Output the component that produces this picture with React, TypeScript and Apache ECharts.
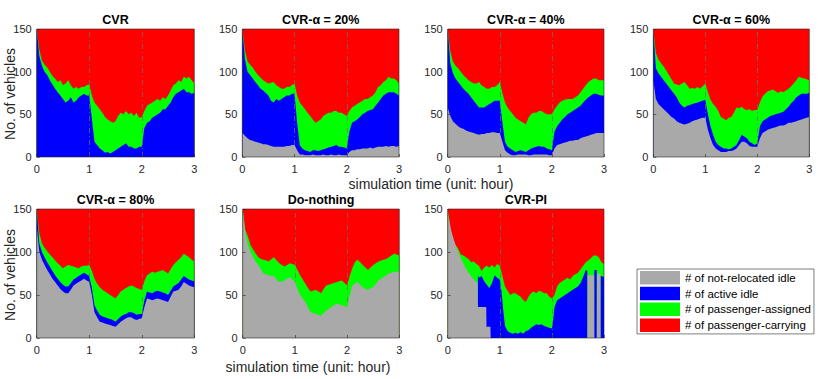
import React, { useEffect, useRef } from "react";
import * as echarts from "echarts";

// ---------------- DATA ----------------
// shared sampling grid (hours)
const TIME: number[] = Array.from({ length: 61 }, (_, i) => Math.round(i * 5) / 100);
const FLEET_SIZE = 150; // total vehicles: top of the stack (passenger-carrying)

const SERIES_NAMES = [
  "# of not-relocated idle",
  "# of active idle",
  "# of passenger-assigned",
  "# of passenger-carrying",
];
const SERIES_COLORS = ["#a9a9a9", "#0000ff", "#00ff00", "#ff0000"];

const PANEL_TITLES = [
  "CVR",
  "CVR-α = 20%",
  "CVR-α = 40%",
  "CVR-α = 60%",
  "CVR-α = 80%",
  "Do-nothing",
  "CVR-PI",
];

const X_TICKS = [0, 1, 2, 3];
const Y_TICKS = [0, 50, 100, 150];
const PHASE_MARKS = [1, 2];

// Stacked levels (cumulative tops)
// CVR
const CVR_GRAY_T = [0, 3];
const CVR_GRAY = [0, 0];
const CVR_BLUE = [150,118,107,100,96,90,85,80,76,72, 68,64,66,70,64,66,70,72,74,72, 72,45,18,14,10,8,5,6,4,6, 8,10,12,14,16,12,12,10,10,12, 12,34,40,42,46,48,50,52,56,56, 60,64,70,74,76,78,80,76,76,74, 75];
const CVR_GREEN = [150,126,113,108,105,100,95,92,88,90, 84,86,90,84,80,82,80,82,82,84, 85,72,64,60,56,52,47,44,42,40, 42,48,52,50,54,50,52,48,52,46, 47,54,60,62,64,66,68,66,70,68, 72,78,84,86,90,88,94,92,94,90, 86];

// CVR-α = 20%
const A20_GRAY = [28,25,22,20,19,18,17,16,15,15, 14,13,12,12,12,12,12,13,13,14, 14,8,3,3,2,2,2,3,2,2, 2,3,2,2,3,2,2,3,2,2, 2,6,8,8,9,9,10,10,10,11, 10,11,12,12,12,13,12,13,13,12, 13];
const A20_BLUE = [150,115,100,96,92,88,84,80,78,75, 72,66,64,68,66,68,70,72,72,74, 74,40,14,10,8,7,6,8,8,7, 8,9,10,11,12,13,14,12,12,11, 10,30,40,42,44,47,50,52,54,55, 56,60,64,68,72,74,76,76,76,74, 72];
const A20_GREEN = [150,125,112,108,105,100,96,93,90,88, 86,87,88,84,82,80,80,82,82,84, 86,72,64,60,56,52,48,44,40,42, 44,48,50,52,52,54,54,52,52,50, 48,54,58,60,62,64,66,68,68,70, 72,76,82,84,88,90,94,92,92,90, 86];

// CVR-α = 40%
const A40_GRAY = [58,48,42,39,36,34,33,31,30,29, 28,27,26,27,27,28,28,29,29,28, 28,18,8,5,3,2,2,3,3,3, 3,2,2,3,3,3,3,3,3,2, 2,10,14,15,16,17,18,19,19,20, 20,22,23,24,25,26,27,28,28,28, 28];
const A40_BLUE = [150,110,98,92,88,84,80,77,74,70, 66,62,58,58,58,60,62,64,66,66, 66,40,18,12,10,8,6,7,8,7, 6,8,10,11,12,13,12,12,10,9, 8,30,36,40,44,47,50,52,54,56, 58,60,64,67,70,72,74,74,73,72, 72];
const A40_GREEN = [150,124,112,107,104,100,96,93,90,88, 86,86,88,84,82,80,80,82,82,84, 88,75,64,58,54,50,46,44,42,40, 38,46,50,52,52,54,54,52,50,50, 50,56,60,64,66,67,68,68,68,70, 72,76,80,84,88,90,92,92,90,90, 90];

// CVR-α = 60%
const A60_GRAY = [90,68,62,59,56,53,50,47,45,42, 40,39,38,39,40,42,43,44,45,46, 46,32,22,14,10,8,6,6,6,7, 7,8,10,14,18,18,16,13,12,12, 12,22,28,30,32,33,34,35,36,37, 37,38,40,40,41,42,43,44,45,46, 47];
const A60_BLUE = [150,104,98,94,90,86,82,78,74,70, 64,60,58,60,61,62,63,64,65,66, 67,50,36,26,18,14,12,10,10,9, 10,12,14,20,26,24,22,18,16,14, 16,36,42,44,46,48,49,50,51,52, 53,56,59,63,66,70,72,74,74,74, 75];
const A60_GREEN = [150,122,114,110,106,101,96,91,86,85, 84,86,88,84,80,81,80,82,80,83, 86,76,67,62,59,54,47,45,43,46, 47,52,58,57,59,56,55,56,54,55, 55,64,71,74,77,78,79,77,75,77, 76,78,80,83,86,90,94,93,92,91, 90];

// CVR-α = 80%
const A80_GRAY = [130,100,91,85,79,74,69,65,61,57, 54,52,52,56,61,63,65,67,69,67, 65,50,30,24,19,18,17,16,15,14, 13,16,19,21,23,24,24,22,21,22, 23,36,46,45,44,45,46,45,44,43, 42,48,54,55,56,60,65,63,61,60, 59];
const A80_BLUE = [150,110,100,94,88,83,78,73,69,65, 62,60,60,64,68,70,72,74,76,74, 72,58,38,32,27,25,24,23,22,21, 19,22,25,27,28,30,30,29,27,28, 28,44,54,53,52,54,55,54,53,52, 50,55,60,62,64,68,72,70,68,67, 66];
const A80_GREEN = [150,122,110,105,101,97,94,90,87,84, 81,83,85,84,83,82,81,83,84,84, 85,78,69,63,59,56,54,52,50,48, 46,50,54,56,58,60,61,60,58,57, 56,66,73,75,77,76,77,78,79,77, 75,80,85,88,91,94,98,96,94,91, 89];

// Do-nothing (no active idle vehicles)
const DN_GRAY = [150,122,108,100,94,89,85,80,75,74, 73,72,72,68,65,66,67,69,71,68, 65,57,50,46,42,36,30,29,28,27, 26,29,32,34,36,38,40,39,38,37, 36,50,61,63,65,62,59,57,56,58, 59,63,67,69,71,73,75,76,77,77, 77];
const DN_BLUE_T = [0, 3];
const DN_BLUE = [0, 0];
const DN_GREEN = [150,126,118,108,103,98,94,92,91,90, 89,92,94,90,87,85,83,85,87,86, 85,79,73,68,63,58,54,55,56,54, 52,57,61,62,63,64,65,66,67,64, 61,72,81,88,91,88,85,82,79,82, 85,87,89,90,91,92,94,96,98,97, 96];

// CVR-PI
const PI_GRAY_T = [0,0.04,0.07,0.13,0.2,0.26,0.33,0.39,0.46,0.52,0.575,0.58,0.74,0.745,0.82,0.825,2.68,2.685,2.81,2.815,2.86,2.865,2.93,2.935,3];
const PI_GRAY = [146,134,124,112,100,92,83,77,71,67,64,36,36,13,13,0,0,73,73,0,0,75,75,0,0];
const PI_BLUE_T = [0,0.575,0.58,0.6,0.65,0.7,0.75,0.8,0.85,0.9,0.95,1,1.03,1.07,1.1,1.15,1.2,1.25,1.3,1.35,1.4,1.45,1.5,1.55,1.6,1.65,1.7,1.75,1.8,1.85,1.9,1.95,2,2.03,2.05,2.1,2.15,2.2,2.25,2.3,2.35,2.4,2.45,2.5,2.55,2.6,2.65,2.68,2.685,2.81,2.815,2.86,2.865,2.93,2.935,2.95,3];
const PI_BLUE = [0,0,73,70,72,66,62,58,64,73,70,68,56,30,14,8,6,5,6,5,7,5,8,9,12,14,16,15,16,14,13,12,11,24,36,44,46,48,50,52,54,56,58,60,64,71,79,78,0,0,79,79,0,0,72,72,71];
const PI_GREEN = [150,128,114,108,104,97,96,94,92,88, 89,86,84,78,82,84,82,85,82,86, 84,72,60,55,50,52,52,50,48,44, 42,48,52,54,52,55,54,52,52,48, 46,50,60,64,66,68,70,68,72,74, 76,80,84,88,90,93,96,96,94,88, 86];

type Level = [number[], number[]];
const PANELS: { gray: Level; blue: Level; green: Level }[] = [
  { gray: [CVR_GRAY_T, CVR_GRAY], blue: [TIME, CVR_BLUE], green: [TIME, CVR_GREEN] },
  { gray: [TIME, A20_GRAY], blue: [TIME, A20_BLUE], green: [TIME, A20_GREEN] },
  { gray: [TIME, A40_GRAY], blue: [TIME, A40_BLUE], green: [TIME, A40_GREEN] },
  { gray: [TIME, A60_GRAY], blue: [TIME, A60_BLUE], green: [TIME, A60_GREEN] },
  { gray: [TIME, A80_GRAY], blue: [TIME, A80_BLUE], green: [TIME, A80_GREEN] },
  { gray: [TIME, DN_GRAY], blue: [DN_BLUE_T, DN_BLUE], green: [TIME, DN_GREEN] },
  { gray: [PI_GRAY_T, PI_GRAY], blue: [PI_BLUE_T, PI_BLUE], green: [TIME, PI_GREEN] },
];

// ---------------- LAYOUT ----------------
const FONT = '"Liberation Sans", Arial, Helvetica, sans-serif';
const BOXES = [
  { left: 36.7, top: 29, width: 157.6, height: 128 },
  { left: 242.3, top: 29, width: 156.7, height: 128 },
  { left: 447.7, top: 29, width: 156.3, height: 128 },
  { left: 653.3, top: 29, width: 156, height: 128 },
  { left: 36.7, top: 209, width: 157.6, height: 129 },
  { left: 242.7, top: 209, width: 156.6, height: 129 },
  { left: 447.7, top: 209, width: 156.3, height: 129 },
];

function pairs(xs: number[], ys: number[]) {
  return xs.map((x, k) => [x, ys[k]]);
}

function buildOption() {
  const grid: any[] = [];
  const xAxis: any[] = [];
  const yAxis: any[] = [];
  const series: any[] = [];
  const graphic: any[] = [];

  PANELS.forEach((p, i) => {
    const b = BOXES[i];
    grid.push({ left: b.left, top: b.top, width: b.width, height: b.height, containLabel: false });
    xAxis.push({
      type: "value",
      gridIndex: i,
      min: X_TICKS[0],
      max: X_TICKS[X_TICKS.length - 1],
      interval: 1,
      z: 10,
      axisLine: { show: false },
      axisTick: { show: true, inside: true, length: 3, lineStyle: { color: "#262626", width: 0.6 } },
      splitLine: { show: false },
      axisLabel: { fontSize: 11, color: "#262626", fontFamily: FONT, margin: 6 },
    });
    yAxis.push({
      type: "value",
      gridIndex: i,
      min: Y_TICKS[0],
      max: Y_TICKS[Y_TICKS.length - 1],
      interval: 50,
      z: 10,
      axisLine: { show: false },
      axisTick: { show: true, inside: true, length: 3, lineStyle: { color: "#262626", width: 0.6 } },
      splitLine: { show: false },
      axisLabel: { fontSize: 11, color: "#262626", fontFamily: FONT, margin: 5 },
    });

    const fleetLevel = pairs(TIME, TIME.map(() => FLEET_SIZE));
    const levels = [
      { name: SERIES_NAMES[3], color: SERIES_COLORS[3], data: fleetLevel, z: 2 },
      { name: SERIES_NAMES[2], color: SERIES_COLORS[2], data: pairs(p.green[0], p.green[1]), z: 3 },
      { name: SERIES_NAMES[1], color: SERIES_COLORS[1], data: pairs(p.blue[0], p.blue[1]), z: 4 },
      { name: SERIES_NAMES[0], color: SERIES_COLORS[0], data: pairs(p.gray[0], p.gray[1]), z: 5 },
    ];
    levels.forEach((lv, k) => {
      const s: any = {
        type: "line",
        name: lv.name,
        xAxisIndex: i,
        yAxisIndex: i,
        data: lv.data,
        showSymbol: false,
        symbol: "none",
        silent: true,
        z: lv.z,
        color: lv.color,
        itemStyle: { color: lv.color },
        lineStyle: { width: 0, color: lv.color },
        areaStyle: { color: lv.color, opacity: 1, origin: "start" },
      };
      if (k === 3) {
        s.markLine = {
          silent: true,
          symbol: ["none", "none"],
          label: { show: false },
          lineStyle: { color: "#707070", width: 0.8, type: [5, 3, 1, 3], opacity: 0.9 },
          data: PHASE_MARKS.map((v) => ({ xAxis: v })),
        };
      }
      series.push(s);
    });

    graphic.push({
      type: "rect",
      silent: true,
      z: 100,
      shape: { x: b.left, y: b.top, width: b.width, height: b.height },
      style: { fill: null, stroke: "#262626", lineWidth: 0.6 },
    });
    graphic.push({
      type: "text",
      silent: true,
      z: 100,
      x: b.left + b.width / 2,
      y: b.top - 9,
      style: {
        text: PANEL_TITLES[i],
        font: `bold 12.5px ${FONT}`,
        fill: "#000",
        align: "center",
        verticalAlign: "middle",
        textAlign: "center",
        textVerticalAlign: "middle",
      },
    });
  });

  const labelStyle = (text: string) => ({
    text,
    font: `14px ${FONT}`,
    fill: "#262626",
    align: "center",
    verticalAlign: "middle",
    textAlign: "center",
    textVerticalAlign: "middle",
  });
  graphic.push({ type: "text", silent: true, x: 431, y: 184, style: labelStyle("simulation time (unit: hour)") });
  graphic.push({ type: "text", silent: true, x: 308, y: 367, style: labelStyle("simulation time (unit: hour)") });
  graphic.push({ type: "text", silent: true, x: 10, y: 94, rotation: Math.PI / 2, style: labelStyle("No. of vehicles") });
  graphic.push({ type: "text", silent: true, x: 10, y: 275, rotation: Math.PI / 2, style: labelStyle("No. of vehicles") });

  return {
    animation: false,
    backgroundColor: "#ffffff",
    grid,
    xAxis,
    yAxis,
    series,
    graphic,
    legend: {
      orient: "vertical",
      left: 637,
      top: 269,
      data: SERIES_NAMES,
      icon: "rect",
      itemWidth: 40,
      itemHeight: 13.5,
      itemGap: 2.3,
      padding: [2, 3, 2, 3],
      borderColor: "#262626",
      borderWidth: 0.6,
      backgroundColor: "#ffffff",
      selectedMode: false,
      textStyle: { fontSize: 11.5, color: "#000", fontFamily: FONT },
    },
  };
}

export default function App() {
  const ref = useRef<HTMLDivElement>(null);
  useEffect(() => {
    if (!ref.current) return;
    const chart = echarts.init(ref.current, null, { renderer: "svg" });
    chart.setOption(buildOption() as any);
    return () => chart.dispose();
  }, []);
  return (
    <div
      ref={ref}
      style={{ position: "absolute", left: 0, top: 0, width: 831, height: 379, background: "#fff" }}
    />
  );
}
